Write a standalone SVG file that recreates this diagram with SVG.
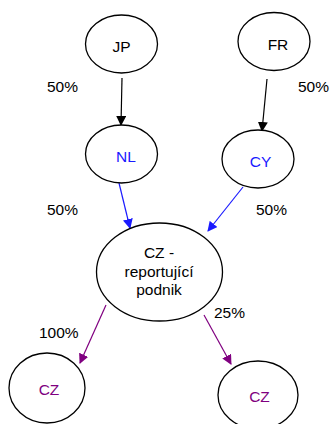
<svg xmlns="http://www.w3.org/2000/svg" width="333" height="424" viewBox="0 0 333 424">
<style>
text{font-family:"Liberation Sans",Arial,sans-serif;font-size:15.5px}
.n{fill:#fff;stroke:#000;stroke-width:1.3}
.c{text-anchor:middle}
.k{fill:#000}.b{fill:#1a1aff}.p{fill:#800080}
</style>
<defs>
<marker id="ak" markerWidth="10" markerHeight="10" refX="9" refY="5" orient="auto" markerUnits="userSpaceOnUse"><path d="M0,0L10,5L0,10z" fill="#000"/></marker>
<marker id="ab" markerWidth="10" markerHeight="10" refX="9" refY="5" orient="auto" markerUnits="userSpaceOnUse"><path d="M0,0L10,5L0,10z" fill="#1a1aff"/></marker>
<marker id="ap" markerWidth="10" markerHeight="10" refX="9" refY="5" orient="auto" markerUnits="userSpaceOnUse"><path d="M0,0L10,5L0,10z" fill="#800080"/></marker>
</defs>
<g id="connectors" fill="none" stroke-width="1.2">
<line x1="122" y1="78" x2="121" y2="125" stroke="#000" marker-end="url(#ak)"/>
<line x1="267" y1="79" x2="262" y2="131" stroke="#000" marker-end="url(#ak)"/>
<line x1="119" y1="183" x2="130" y2="228" stroke="#1a1aff" marker-end="url(#ab)"/>
<line x1="243" y1="187" x2="208" y2="231" stroke="#1a1aff" marker-end="url(#ab)"/>
<line x1="106" y1="305" x2="80" y2="363" stroke="#800080" marker-end="url(#ap)"/>
<line x1="204" y1="315" x2="231" y2="364" stroke="#800080" marker-end="url(#ap)"/>
</g>
<g id="labels" class="k">
<text x="47" y="92">50%</text>
<text x="298" y="92">50%</text>
<text x="47" y="215">50%</text>
<text x="256" y="215">50%</text>
<text x="214" y="318">25%</text>
<text x="39" y="338">100%</text>
</g>
<g id="JP"><ellipse class="n" cx="121.5" cy="44" rx="36" ry="29"/><text class="c k" x="121.5" y="52">JP</text></g>
<g id="FR"><ellipse class="n" cx="274" cy="41.5" rx="36" ry="29"/><text class="c k" x="278" y="50">FR</text></g>
<g id="NL"><ellipse class="n" cx="121.5" cy="154" rx="36" ry="29"/><text class="c b" x="126" y="162">NL</text></g>
<g id="CY"><ellipse class="n" cx="258" cy="159" rx="36" ry="29"/><text class="c b" x="260.5" y="166.5">CY</text></g>
<g id="CZmain"><ellipse class="n" cx="159.5" cy="272" rx="63" ry="49"/>
<text class="c k" x="159" y="257.5">CZ -</text>
<text class="c k" x="159" y="276.5">reportující</text>
<text class="c k" x="159" y="295">podnik</text></g>
<g id="CZleft"><ellipse class="n" cx="47" cy="388" rx="38" ry="35"/><text class="c p" x="49" y="395">CZ</text></g>
<g id="CZright"><ellipse class="n" cx="258" cy="395" rx="40" ry="34"/><text class="c p" x="259.5" y="402">CZ</text></g>
</svg>
